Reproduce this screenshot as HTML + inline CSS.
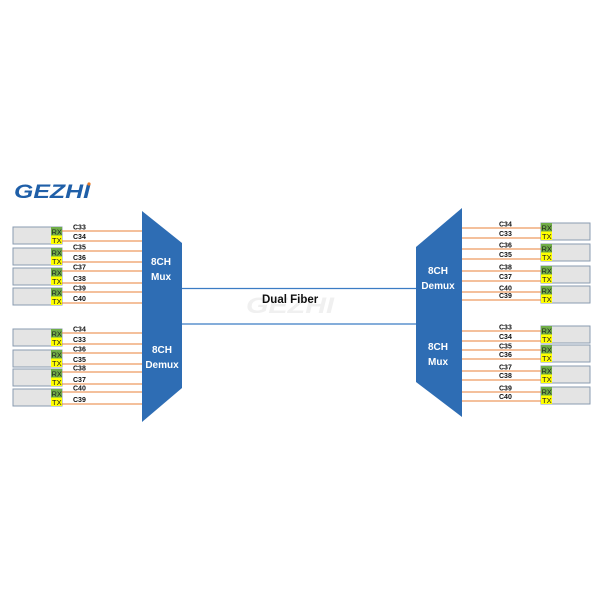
<!DOCTYPE html>
<html><head><meta charset="utf-8"><style>
html,body{margin:0;padding:0;background:#fff;}
svg{display:block;}
text{font-family:"Liberation Sans",sans-serif;}
</style></head><body>
<svg width="600" height="600" viewBox="0 0 600 600">
<text x="14" y="198" font-size="19" font-weight="bold" font-style="italic" fill="#1f5fa8" textLength="76" lengthAdjust="spacingAndGlyphs">GEZHI</text>
<circle cx="89" cy="184" r="1.6" fill="#e87722"/>
<line x1="182" y1="288.5" x2="416" y2="288.5" stroke="#3b7cc4" stroke-width="1.3"/>
<line x1="182" y1="324" x2="416" y2="324" stroke="#3b7cc4" stroke-width="1.3"/>
<text x="246" y="313" font-size="22" font-weight="bold" font-style="italic" fill="#f0f0f0" textLength="88" lengthAdjust="spacingAndGlyphs">GEZHI</text>
<text x="262" y="303" font-size="11.5" font-weight="bold" fill="#111">Dual Fiber</text>
<polygon points="142,211 182,243 182,388 142,422" fill="#2e6db4"/>
<polygon points="462,208 416,247 416,382 462,417" fill="#2e6db4"/>
<g fill="#fff" font-size="10" font-weight="bold" text-anchor="middle">
<text x="161" y="265">8CH</text><text x="161" y="280">Mux</text>
<text x="162" y="353">8CH</text><text x="162" y="368">Demux</text>
<text x="438" y="274">8CH</text><text x="438" y="289">Demux</text>
<text x="438" y="350">8CH</text><text x="438" y="365">Mux</text>
</g>
<script>
var s='http://www.w3.org/2000/svg',svg=document.querySelector('svg');
function el(t,a,txt){var e=document.createElementNS(s,t);for(var k in a)e.setAttribute(k,a[k]);if(txt)e.textContent=txt;svg.appendChild(e);}
function unit(bx,by,lx1,lx2,tx,l1,l2,labs,rx){
 el('rect',{x:bx,y:by,width:49,height:17,fill:'#e4e4e4',stroke:'#8a9bb0','stroke-width':1});
 el('rect',{x:rx,y:by,width:11,height:8.5,fill:'#70ad47'});
 el('rect',{x:rx,y:by+8.5,width:11,height:8.5,fill:'#ffff00'});
 el('text',{x:rx+0.5,y:by+7.5,'font-size':7.5,fill:'#222'},'RX');
 el('text',{x:rx+1,y:by+16,'font-size':7.5,fill:'#222'},'TX');
 el('line',{x1:lx1,y1:l1,x2:lx2,y2:l1,stroke:'#e8823a','stroke-width':1});
 el('line',{x1:lx1,y1:l2,x2:lx2,y2:l2,stroke:'#e8823a','stroke-width':1});
 el('text',{x:tx,y:l1-1.5,'font-size':7,'font-weight':'bold',fill:'#111'},labs[0]);
 el('text',{x:tx,y:l2-2,'font-size':7,'font-weight':'bold',fill:'#111'},labs[1]);
}
var L=[[227,231,241,['C33','C34']],[248,251,262,['C35','C36']],[268,271,283,['C37','C38']],[288,292,303,['C39','C40']],
[329,333,344,['C34','C33']],[350,353,364,['C36','C35']],[369,372,384,['C38','C37']],[389,392,404,['C40','C39']]];
L.forEach(function(r){unit(13,r[0],62,142,73,r[1],r[2],r[3],51);});
var R=[[223,228,238,['C34','C33']],[244,249,259,['C36','C35']],[266,271,281,['C38','C37']],[286,292,300,['C40','C39']],
[326,331,341,['C33','C34']],[345,350,359,['C35','C36']],[366,371,380,['C37','C38']],[387,392,401,['C39','C40']]];
R.forEach(function(r){unit(541,r[0],462,541,499,r[1],r[2],r[3],541);});
</script>
</svg>
</body></html>
